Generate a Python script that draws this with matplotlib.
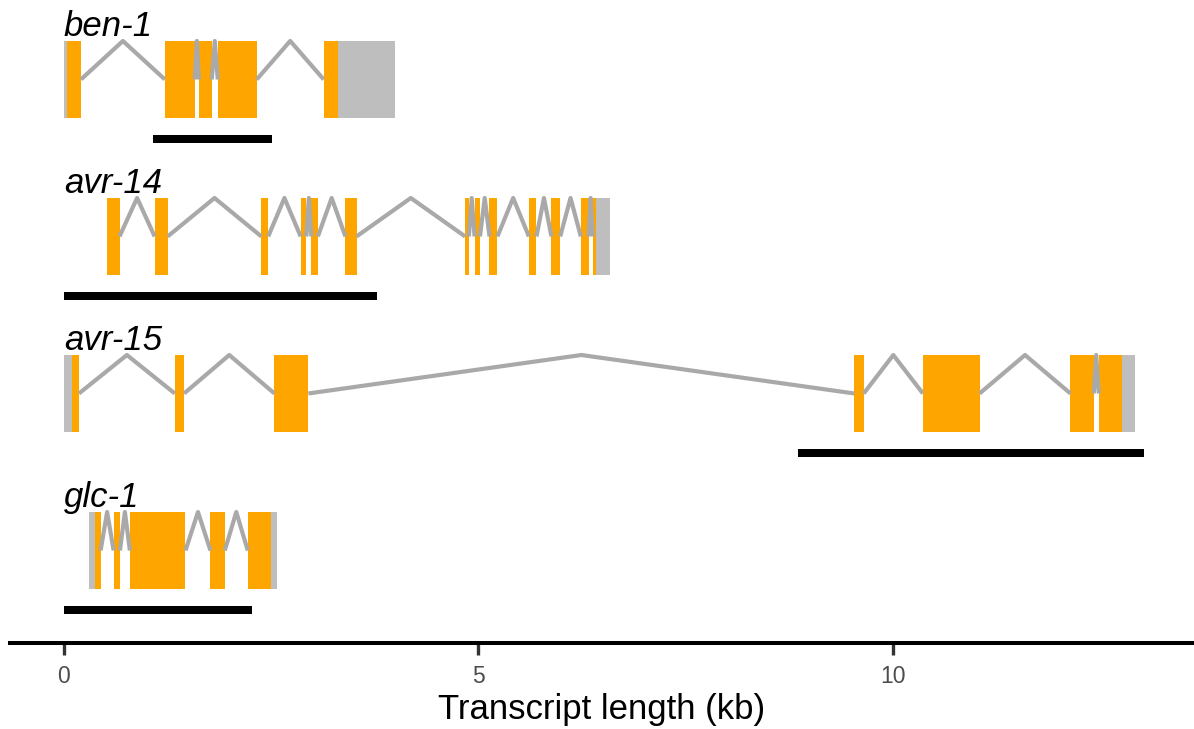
import matplotlib
matplotlib.use("Agg")
import matplotlib.pyplot as plt

plt.rcParams['font.family'] = ['Liberation Sans', 'DejaVu Sans']

# genes, top to bottom
genes = ["ben-1", "avr-14", "avr-15", "glc-1"]

# exon extents (kb)
ben1_exons = [(0.00, 0.205), (1.217, 1.578), (1.627, 1.783), (1.855, 2.325), (3.133, 3.99)]
avr14_exons = [(0.518, 0.670), (1.094, 1.251), (2.381, 2.464), (2.855, 2.924), (2.984, 3.063),
               (3.395, 3.529), (4.839, 4.884), (4.953, 5.018), (5.133, 5.229), (5.608, 5.700),
               (5.880, 5.986), (6.235, 6.328), (6.378, 6.581)]
avr15_exons = [(0.00, 0.181), (1.337, 1.449), (2.539, 2.948), (9.534, 9.647), (10.361, 11.045),
               (12.141, 12.422), (12.482, 12.924)]
glc1_exons = [(0.301, 0.442), (0.599, 0.675), (0.795, 1.466), (1.767, 1.940), (2.217, 2.575)]
exons = [ben1_exons, avr14_exons, avr15_exons, glc1_exons]

# coding region (start, end) per gene
cds = [(0.036, 3.30), (0.518, 6.419), (0.093, 12.767), (0.373, 2.498)]

# black bars under each gene
bars = [(1.07, 2.51), (0.0, 3.78), (8.855, 13.024), (0.0, 2.27)]

ticks = [0, 5, 10]

ORANGE = "#FFA500"
UTR = "#BEBEBE"
INTRON = "#A9A9A9"

fig = plt.figure(figsize=(11.94, 7.29), dpi=100)
ax = fig.add_axes([10 / 1194, (729 - 642.5) / 729, 1184 / 1194, 642.5 / 729])

half = 0.245
for i, gene in enumerate(genes):
    ex = exons[i]
    cs, ce = cds[i]
    # exon boxes
    for s, e in ex:
        ax.broken_barh([(s, e - s)], (i - half, 2 * half), facecolors=UTR, zorder=2)
        a, b = max(s, cs), min(e, ce)
        if b > a:
            ax.broken_barh([(a, b - a)], (i - half, 2 * half), facecolors=ORANGE, zorder=3)
    # introns
    for (s1, e1), (s2, e2) in zip(ex[:-1], ex[1:]):
        ax.plot([e1, (e1 + s2) / 2, s2], [i, i - half, i], color=INTRON, lw=3,
                solid_joinstyle="round", solid_capstyle="butt", zorder=4)
    # bar
    bs, be = bars[i]
    ax.broken_barh([(bs, be - bs)], (i + 0.379 - 0.0255, 0.051), facecolors="black", zorder=2)
    # label
    ax.text(0, i - 0.277, gene, style="italic", fontsize=25, ha="left", va="baseline")

ax.set_xlim(-0.651, -0.651 + 1184 / 82.9)
ax.set_ylim(3.586, -0.506)

for sp in ["top", "left", "right"]:
    ax.spines[sp].set_visible(False)
ax.spines["bottom"].set_linewidth(2.9)
ax.spines["bottom"].set_color("black")
ax.set_yticks([])
ax.set_xticks(ticks)
ax.set_xticklabels([str(t) for t in ticks])
ax.tick_params(axis="x", length=8.5, width=2.4, color="#333333", labelsize=16.5,
               labelcolor="#4D4D4D", pad=8)

fig.text(602 / 1194, (729 - 719) / 729, "Transcript length (kb)", fontsize=25,
         ha="center", va="baseline")

fig.savefig("out.png", dpi=100)
